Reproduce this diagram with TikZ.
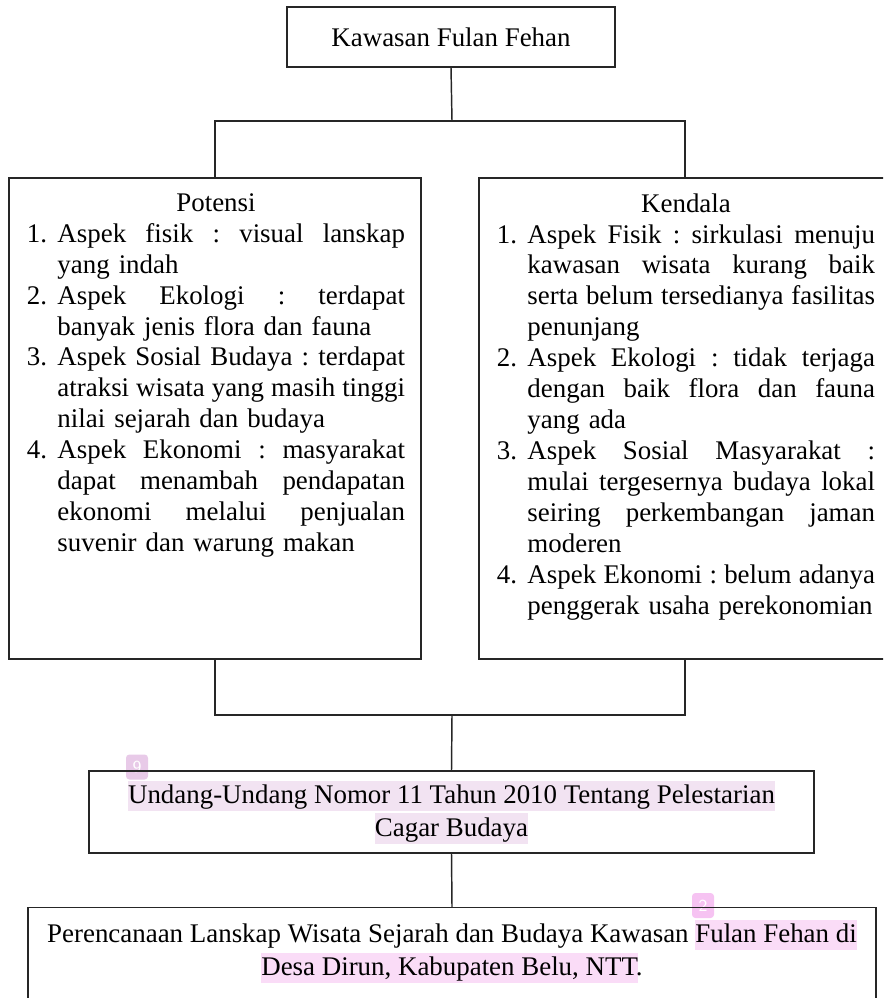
\documentclass[tikz,border=0pt]{standalone}
\usepackage{fontspec}
\setmainfont{Liberation Serif}
\usepackage{tikz}
\usepackage{xcolor}
\definecolor{sorotungu}{HTML}{F2E3F2}
\definecolor{sorotmerah}{HTML}{FADCF7}
\definecolor{tandaungu}{HTML}{E8CAE8}
\definecolor{tandamerah}{HTML}{F6C3F2}
\newdimen\upx \upx=0.446pt
\newdimen\lebarbaris \lebarbaris=168.6pt
\newlength{\lebarsorot}
\newcommand{\sorot}[2]{\settowidth{\lebarsorot}{#2}\rlap{\textcolor{#1}{\rule[-3.2pt]{\lebarsorot}{13.4pt}}}#2}
\def\selesai{}
\def\ratakan#1{\ratakanB#1 \selesai}
\def\ratakanB#1 #2\selesai{#1\ifx\relax#2\relax\else\hskip 2.4pt plus 1fil\relax\ratakanB#2\selesai\fi}
\newcommand{\aturparagraf}{\frenchspacing\hbadness=10000\hfuzz=20pt\parindent=0pt}
\newcommand{\nomor}[2]{\hbox to \lebarbaris{\hbox to 30.5\upx{#1\hfil}\ratakan{#2}}}
\newcommand{\terus}[1]{\hbox to \lebarbaris{\hskip 30.5\upx\ratakan{#1}}}
\newcommand{\akhir}[1]{\hbox to \lebarbaris{\hskip 30.5\upx #1\hfil}}
\tikzstyle{kotak} = [draw=black!85,line width=0.65pt,inner sep=0pt]
\tikzstyle{garis} = [draw=black!85,line width=0.65pt]
\tikzstyle{daftar} = [inner sep=0pt,text width=\lebarbaris,font=\fontsize{12}{13.8}\selectfont\aturparagraf]
\tikzstyle{judul} = [font=\fontsize{12}{14.7}\selectfont,align=center]
\tikzstyle{tanda} = [rounded corners=1.5pt,inner sep=0pt,minimum width=22*\upx,minimum height=25*\upx,text=white,font=\sffamily\fontsize{7.5}{8}\selectfont]

\begin{document}
\begin{tikzpicture}[x=0.446pt,y=-0.446pt]
\useasboundingbox (0,0) rectangle (883,998);
\clip (0,0) rectangle (883,998);

\node[tanda,fill=tandaungu] (tandasembilan) at (137,767) {9};
\node[tanda,fill=tandamerah] (tandadua) at (703,905.5) {2};

\node[kotak,judul,minimum width=328*\upx,minimum height=60*\upx] (kawasan) at (451,37) {Kawasan Fulan Fehan};
\node[kotak,minimum width=412*\upx,minimum height=481*\upx] (potensi) at (215,418.5) {};
\node[kotak,minimum width=412*\upx,minimum height=481*\upx] (kendala) at (685,418.5) {};

\node[daftar,anchor=north] (isipotensi) at (216,193) {
\centerline{Potensi}
\nomor{1.}{Aspek fisik : visual lanskap}
\akhir{yang indah}
\nomor{2.}{Aspek Ekologi : terdapat}
\akhir{banyak jenis flora dan fauna}
\nomor{3.}{Aspek Sosial Budaya : terdapat}
\terus{atraksi wisata yang masih tinggi}
\akhir{nilai sejarah dan budaya}
\nomor{4.}{Aspek Ekonomi : masyarakat}
\terus{dapat menambah pendapatan}
\terus{ekonomi melalui penjualan}
\akhir{suvenir dan warung makan}};

\node[daftar,anchor=north] (isikendala) at (686,193) {
\centerline{Kendala}
\nomor{1.}{Aspek Fisik : sirkulasi menuju}
\terus{kawasan wisata kurang baik}
\terus{serta belum tersedianya fasilitas}
\akhir{penunjang}
\nomor{2.}{Aspek Ekologi : tidak terjaga}
\terus{dengan baik flora dan fauna}
\akhir{yang ada}
\nomor{3.}{Aspek Sosial Masyarakat :}
\terus{mulai tergesernya budaya lokal}
\terus{seiring perkembangan jaman}
\akhir{moderen}
\nomor{4.}{Aspek Ekonomi : belum adanya}
\akhir{penggerak usaha perekonomian}};

\node[kotak,judul,minimum width=725*\upx,minimum height=82*\upx] (undang) at (451.5,812) {\sorot{sorotungu}{Undang-Undang Nomor 11 Tahun 2010 Tentang Pelestarian}\\\sorot{sorotungu}{Cagar Budaya}};

\node[kotak,minimum width=848*\upx,minimum height=140*\upx,anchor=north] (perencanaan) at (452,907) {};
\node[judul,inner sep=0pt,anchor=north] (isiperencanaan) at (452,919.5) {Perencanaan Lanskap Wisata Sejarah dan Budaya Kawasan \sorot{sorotmerah}{Fulan Fehan di}\\\sorot{sorotmerah}{Desa Dirun, Kabupaten Belu, NTT}.};

\coordinate (cabangatas) at (452,121);
\coordinate (cabangbawah) at (452,715);

\draw[garis] (kawasan.south) -- (cabangatas);
\draw[garis] (potensi.north) |- (cabangatas) -| (kendala.north);
\draw[garis] (potensi.south) |- (cabangbawah) -| (kendala.south);
\draw[garis] (cabangbawah) -- (undang.north);
\draw[garis] (undang.south) -- (perencanaan.north);

\end{tikzpicture}
\end{document}
